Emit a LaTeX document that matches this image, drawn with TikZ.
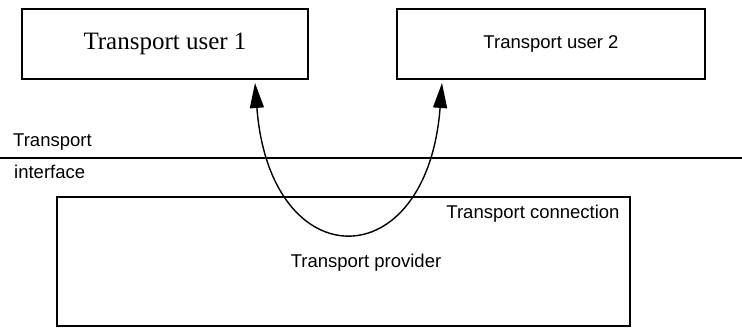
\documentclass[tikz,border=0pt]{standalone}
\usepackage{fontspec}
\setmainfont{Liberation Sans}
\newfontfamily\timesfont{Liberation Serif}
\usetikzlibrary{arrows.meta}
\begin{document}
\begin{tikzpicture}[x=1pt,y=-1pt,
  boxstyle/.style={draw,line width=1.3pt,inner sep=0pt},
  sanslabel/.style={font=\fontsize{18.5}{22}\selectfont,inner sep=0pt},
  linkstyle/.style={line width=1.4pt,{Triangle[length=25pt,width=14pt]}-{Triangle[length=25pt,width=14pt]}}]
\useasboundingbox (0,0) rectangle (742,329);
% user boxes
\node[boxstyle,minimum width=286pt,minimum height=70pt] (u1) at (165,44) {};
\node[font=\timesfont\fontsize{25}{30}\selectfont,inner sep=0pt] (t1) at (u1.center) {Transport user 1};
\node[boxstyle,minimum width=308pt,minimum height=70pt] (u2) at (551,44) {};
\node[sanslabel] (t2) at (u2.center) {Transport user 2};
% interface line
\coordinate (il) at (0,158);
\coordinate (ir) at (742,158);
\draw[line width=1.3pt] (il) -- (ir);
\node[sanslabel,anchor=west] (lt) at (13,142) {Transport};
\node[sanslabel,anchor=west] (li) at (14,172) {interface};
% provider box
\node[boxstyle,minimum width=573pt,minimum height=129pt] (pv) at (343.5,261.5) {};
\node[sanslabel] (tp) at (366,263) {Transport provider};
\node[sanslabel] (tc) at (533,214) {Transport connection};
% connection curve
\coordinate (a) at (255,83);
\coordinate (b) at (442,83);
\draw[linkstyle] (a) .. controls (270,279) and (427,279) .. (b);
\end{tikzpicture}
\end{document}
